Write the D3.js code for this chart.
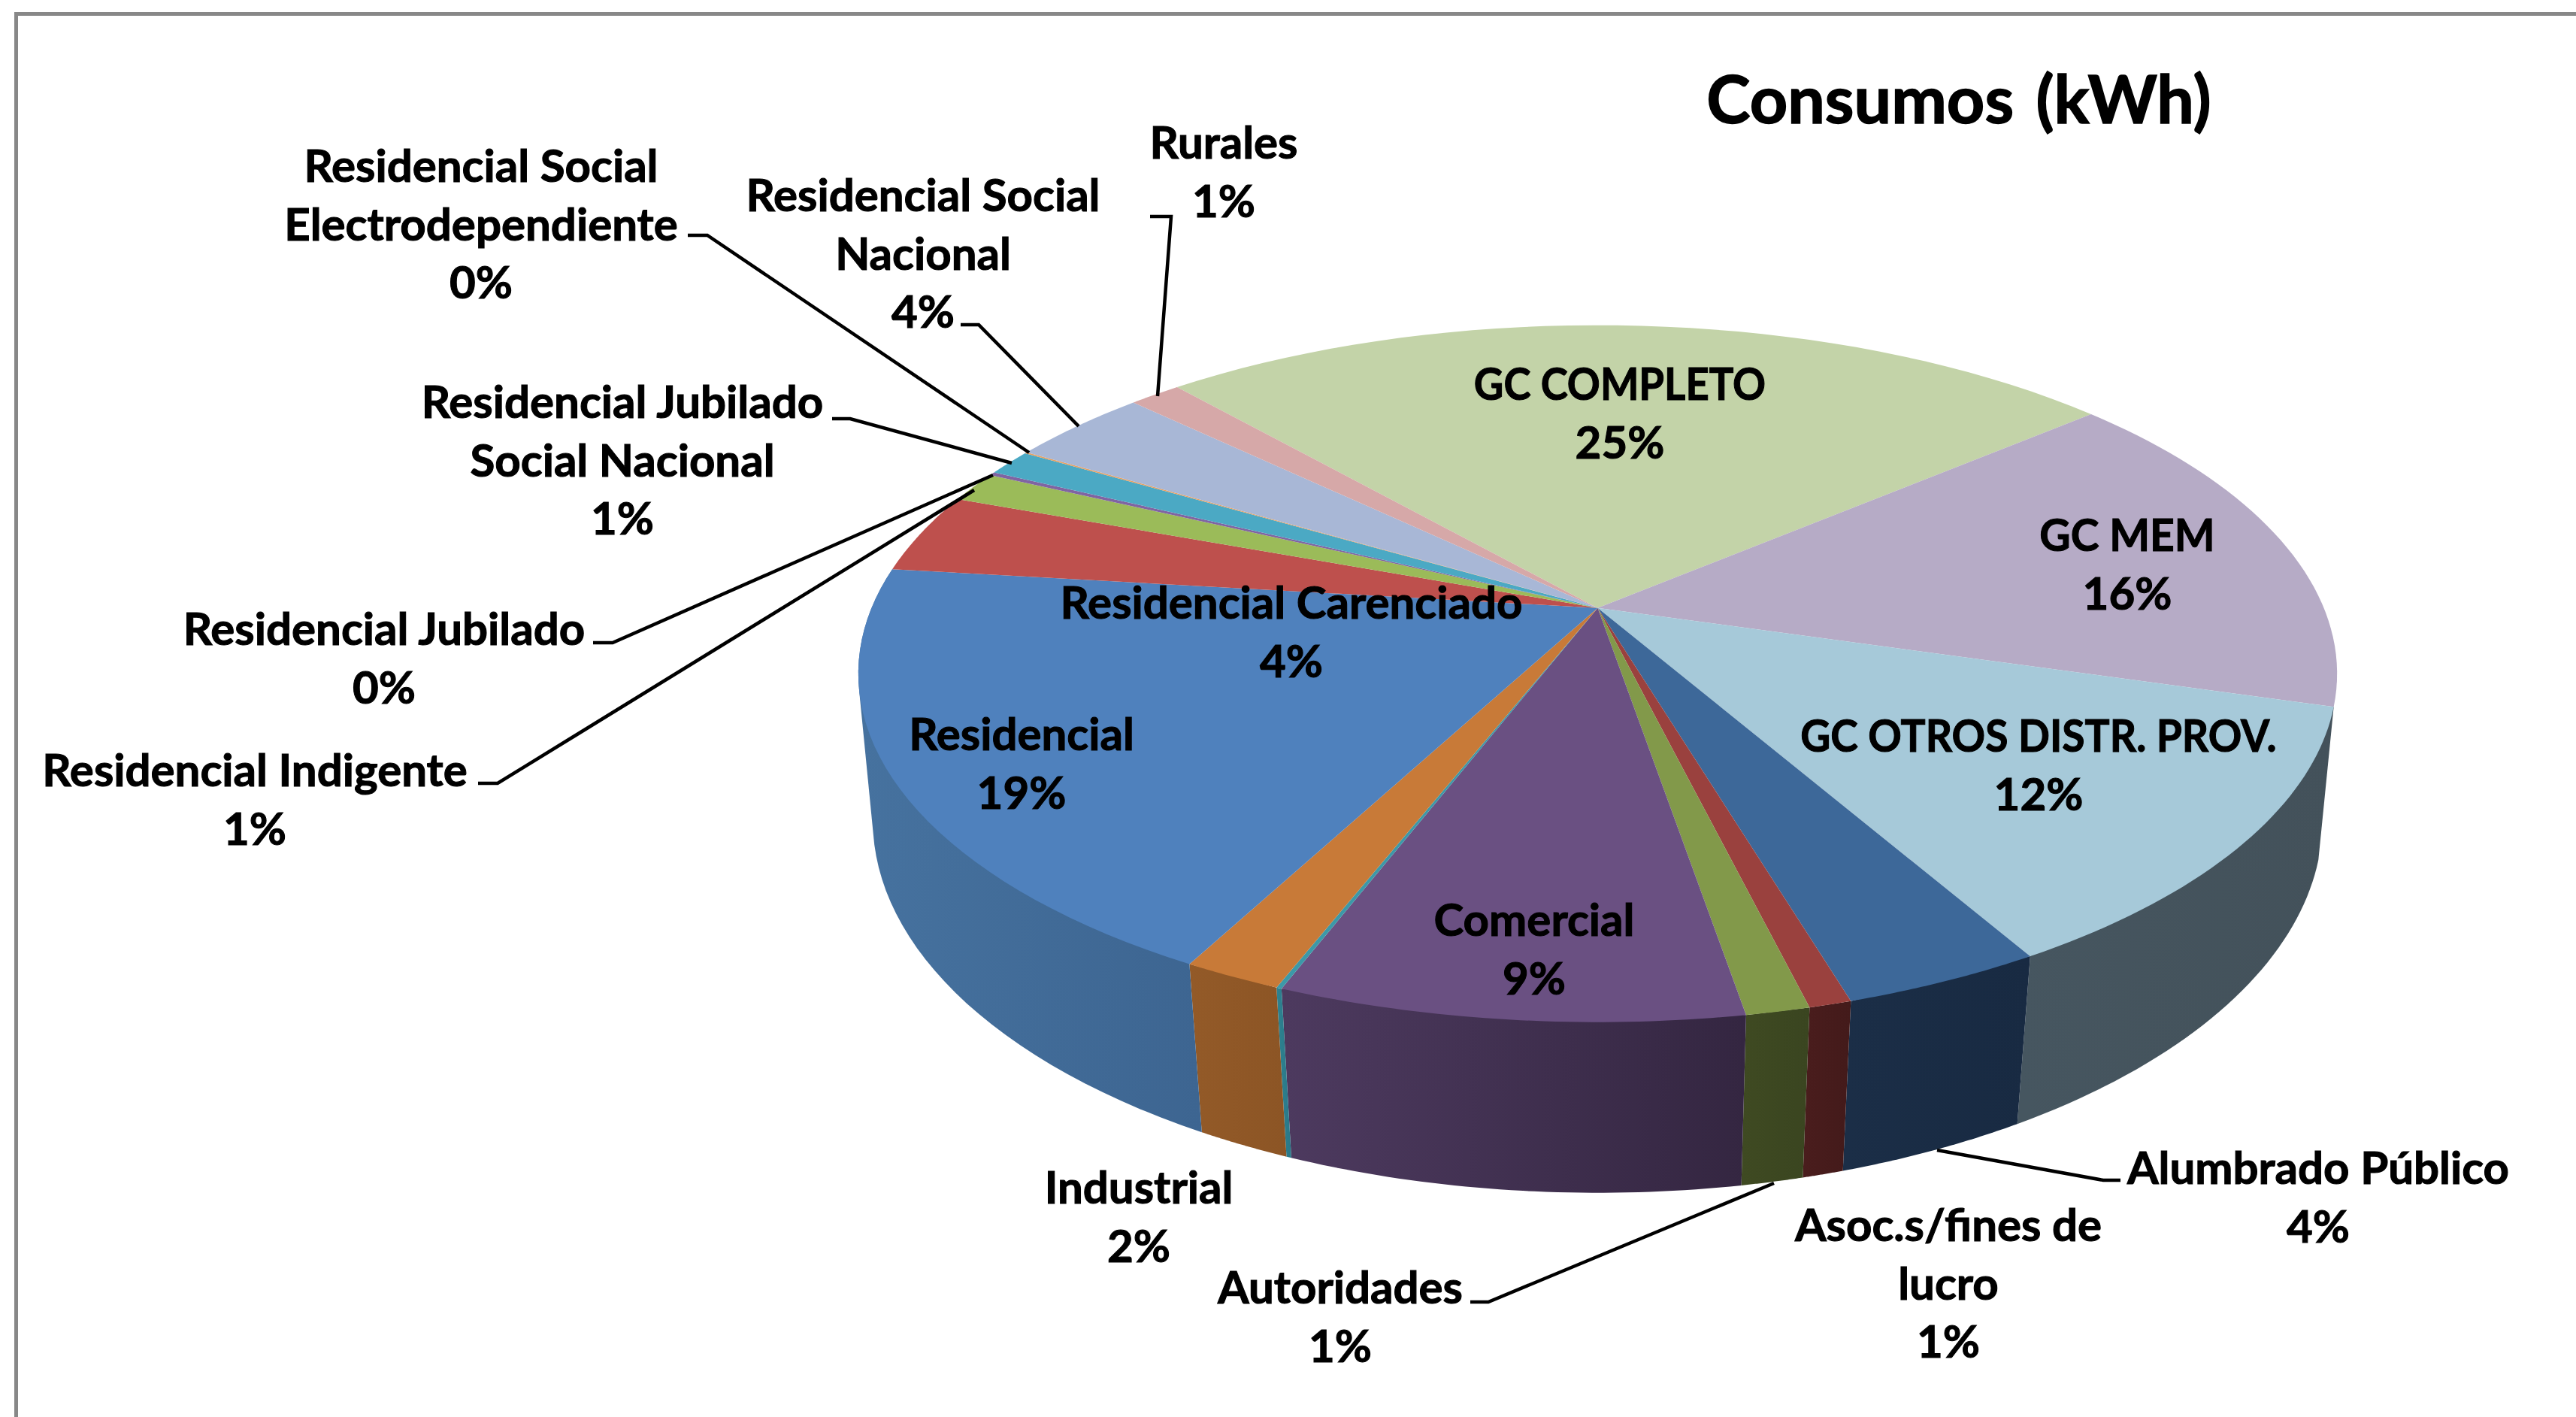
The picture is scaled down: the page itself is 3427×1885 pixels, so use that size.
<!DOCTYPE html>
<html><head><meta charset="utf-8">
<script src="https://cdn.jsdelivr.net/npm/d3@7"></script>
<style>html,body{margin:0;padding:0;background:#fff}svg{display:block}text{font-family:Lato,"Open Sans",sans-serif;font-weight:700;fill:#000;stroke:#000;stroke-width:1.1px}</style>
</head><body>
<script>
const chartTitle = "Consumos (kWh)";
const categories = ["GC COMPLETO","GC MEM","GC OTROS DISTR. PROV.","Alumbrado Público","Asoc.s/fines de lucro","Autoridades","Comercial","(sin rótulo)","Industrial","Residencial","Residencial Carenciado","Residencial Indigente","Residencial Jubilado","Residencial Jubilado Social Nacional","Residencial Social Electrodependiente","Residencial Social Nacional","Rurales"];
const values = [25.3,15.7,12.2,3.69,0.78,1.17,8.5,0.1,1.82,19.12,3.72,1.42,0.17,1.22,0.06,3.67,1.36];
const labelLines = [["GC COMPLETO"],["GC MEM"],["GC OTROS DISTR. PROV."],["Alumbrado Público"],["Asoc.s/fines de","lucro"],["Autoridades"],["Comercial"],null,["Industrial"],["Residencial"],["Residencial Carenciado"],["Residencial Indigente"],["Residencial Jubilado"],["Residencial Jubilado","Social Nacional"],["Residencial Social","Electrodependiente"],["Residencial Social","Nacional"],["Rurales"]];
const topColors = ["#C3D3A8","#B6ABC6","#A6C9D9","#3D6899","#9A413E","#82994A","#6A5082","#3C99A8","#C87A38","#4F81BD","#BE504D","#9BBB59","#8064A2","#4BA9C4","#E8A060","#A8B7D6","#D6A8A8"];
const wallLight = ["#6F7D62","#6A6276","#465660","#1B2E47","#4A1D1D","#3F4A22","#4D3A5F","#2E8290","#935A28","#46729F","#7A3230","#5F7436","#4E3C64","#2E6A7A","#A06030","#66708A","#8A6A6A"];
const wallDark = ["#6F7D62","#6A6276","#43515A","#182A42","#431A1A","#3A4520","#342641","#2A7888","#8C5525","#3D6591","#7A3230","#5F7436","#4E3C64","#2E6A7A","#A06030","#66708A","#8A6A6A"];

// layout (full-size pixels)
const W = 3427, H = 1885, cx = 2125.5;
const startDeg = -41.4;
const topRim = {a:808.7, b:447, k:0.1887, c:966};
const botRim = {a:1003, b:481, k:0.176, c:949.4};
const labelX = [2155,2830,2712,3084,2592,1783,2041,0,1515,1359,1718,339,511,828,640,1228,1628];
const labelY = [511,712,979,1554,1630,1713,1224,0,1580,977,802,1025,837,535,221,260,190];
const labelSqueeze = [0.908,0.95,0.92,1,1,1,1,1,1,1,1,1,1,1,1,1,1];
const lineStep = 77.6, fontSize = 60;
const leaders = [
 null,null,null,
 [[2821,1570],[2798,1570],[2577,1530]],
 null,
 [[1956,1732],[1980,1732],[2360,1574]],
 null,null,null,null,null,
 [[636,1042],[662,1042],[1296,652]],
 [[789,855],[815,855],[1321,632]],
 [[1107,557],[1131,557],[1346,616]],
 [[915,313],[941,313],[1369,602]],
 [[1278,432],[1302,432],[1435,567]],
 [[1530,288],[1558,288],[1540,527]]
];

const svg = d3.select("body").append("svg").attr("width",W).attr("height",H).attr("viewBox",`0 0 ${W} ${H}`);
const defs = svg.append("defs");
svg.append("rect").attr("width",W).attr("height",H).attr("fill","#fff");
svg.append("path").attr("d",`M21.5,${H+5}V18.5H${W+5}`).attr("fill","none").attr("stroke","#888").attr("stroke-width",5);

const project = (r,ang)=>{const x=Math.sin(ang),y=-Math.cos(ang),w=1-r.k*y;return [cx+r.c*x/w,r.a+r.b*y/w];};
const rad = d=>d*Math.PI/180;
const arcs = d3.pie().sort(null).value(d=>d).startAngle(rad(startDeg)).endAngle(rad(startDeg)+2*Math.PI)(values);
const sample = (a0,a1)=>d3.range(0,41).map(i=>a0+(a1-a0)*i/40);
const line = d3.line();

// walls
const wallG = svg.append("g");
arcs.forEach((d,i)=>{
  const mid=(d.startAngle+d.endAngle)/2;
  if(mid<rad(100)||mid>rad(277)) return;
  const angs=sample(d.startAngle,d.endAngle);
  const pts=d3.polygonHull(angs.map(a=>project(topRim,a)).concat(angs.map(a=>project(botRim,a))));
  const ex=d3.extent(pts,p=>p[0]);
  const id="wall"+i;
  const g=defs.append("linearGradient").attr("id",id).attr("gradientUnits","userSpaceOnUse")
    .attr("x1",ex[0]).attr("x2",ex[1]).attr("y1",0).attr("y2",0);
  g.append("stop").attr("offset",0).attr("stop-color",wallLight[i]);
  g.append("stop").attr("offset",1).attr("stop-color",wallDark[i]);
  wallG.append("path").attr("d",line(pts)+"Z").attr("fill",`url(#${id})`);
});
// top faces
const apex=[cx,topRim.a];
svg.append("g").selectAll("path").data(arcs).join("path")
  .attr("d",d=>line([apex].concat(sample(d.startAngle,d.endAngle).map(a=>project(topRim,a))))+"Z")
  .attr("fill",(d,i)=>topColors[i]);
// leaders
svg.append("g").selectAll("path").data(leaders.filter(Boolean)).join("path")
  .attr("d",d=>line(d)).attr("fill","none").attr("stroke","#000").attr("stroke-width",4.5);
// labels
const lg=svg.append("g").attr("text-anchor","middle").attr("font-size",fontSize);
labelLines.forEach((ls,i)=>{
  if(!ls) return;
  const all=ls.concat([Math.round(values[i])+"%"]);
  all.forEach((s,j)=>{
    const t=lg.append("text").attr("x",labelX[i]).attr("y",labelY[i]+j*lineStep).attr("dy","0.35em").text(s);
    if(labelSqueeze[i]!==1&&j<ls.length){
      t.attr("lengthAdjust","spacingAndGlyphs").attr("textLength",t.node().getComputedTextLength()*labelSqueeze[i]);
    }
  });
});
svg.append("text").attr("x",2606).attr("y",133).attr("dy","0.35em").attr("text-anchor","middle").attr("font-size",88).attr("word-spacing",8).style("stroke-width","1.5px").text(chartTitle);
</script>
</body></html>
